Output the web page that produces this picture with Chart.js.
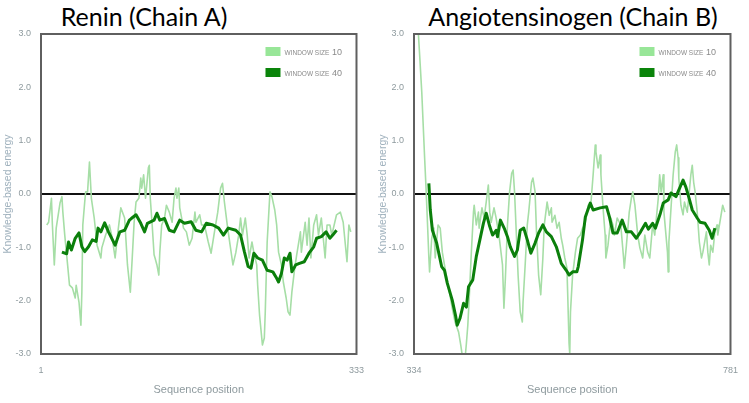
<!DOCTYPE html>
<html>
<head>
<meta charset="utf-8">
<script src="https://cdn.jsdelivr.net/npm/chart.js@4/dist/chart.umd.min.js"></script>
<style>
  html, body { margin: 0; padding: 0; background: #fff; }
  #page { position: relative; width: 749px; height: 403px; overflow: hidden; }
  canvas { position: absolute; top: 0; }
  .ttl { position: absolute; top: 1px; font-family: Lato, "Open Sans", sans-serif; font-size: 25px; line-height: 30px; color: #000; white-space: nowrap; transform: translateX(-50%); }
</style>
</head>
<body>
<div id="page">
  <div class="ttl" style="left:144px">Renin (Chain A)</div>
  <div class="ttl" style="left:573px">Angiotensinogen (Chain B)</div>
  <canvas id="cA" width="375" height="403" style="left:0"></canvas>
  <canvas id="cB" width="374" height="403" style="left:375px"></canvas>
</div>
<script>
// Knowledge-based energy per sequence position, [position, energy]
var reninW10 = [[7,-0.58],[9,-0.53],[12,-0.08],[13,-0.58],[15,-1.33],[17,-0.64],[21,-0.17],[23,-0.05],[24,-0.34],[26,-0.77],
  [29,-1.33],[31,-1.71],[34,-1.76],[37,-1.95],[38,-1.71],[41,-2.03],[43,-2.46],[44,-1.84],[45,-0.58],[47,-0.15],
  [48,0.04],[50,0.04],[52,0.6],[54,-0.08],[57,-0.45],[60,-0.96],[64,-1.2],[65,-1.01],[69,-0.77],[73,-0.58],
  [76,-0.83],[79,-1.2],[82,-0.7],[85,-0.26],[89,-0.45],[92,-1.33],[95,-1.84],[97,-1.2],[99,-0.53],[101,-0.15],
  [104,-0.08],[106,0.3],[107,0.11],[109,0.36],[111,-0.08],[114,0.49],[115,0.54],[116,-0.08],[118,-0.58],[120,-1.14],
  [121,-1.2],[123,-1.33],[125,-1.52],[126,-1.1],[128,-0.58],[131,-0.45],[133,-0.21],[136,-0.34],[139,-0.53],[141,-0.08],
  [143,0.11],[144,-0.08],[146,0.11],[147,-0.26],[151,-0.64],[154,-0.71],[157,-0.96],[160,-0.83],[163,-0.34],[164,-0.53],
  [168,-0.39],[170,-0.58],[173,-0.58],[177,-0.9],[180,-1.11],[183,-0.77],[187,-0.34],[190,0.11],[192,0.2],[194,-0.15],
  [197,-0.58],[200,-0.96],[203,-1.33],[206,-1.1],[209,-0.77],[211,-0.45],[213,-0.77],[216,-0.45],[218,-0.77],[220,-1.2],
  [223,-0.9],[225,-1.1],[228,-1.33],[229,-1.71],[231,-2.27],[233,-2.64],[234,-2.83],[236,-2.7],[237,-2.21],[239,-0.9],
  [241,-0.26],[242,0.04],[244,-0.05],[247,-0.3],[249,-0.58],[251,-1.09],[254,-1.33],[256,-1.65],[259,-1.95],[261,-2.21],
  [263,-2.27],[265,-1.84],[268,-1.39],[270,-1.15],[274,-0.71],[275,-1.09],[279,-0.53],[281,-0.96],[283,-0.45],[285,-1.2],
  [288,-0.58],[291,-0.39],[293,-0.77],[296,-0.45],[300,-1.2],[302,-0.58],[305,-0.58],[307,-0.77],[312,-0.39],[316,-0.34],
  [319,-0.53],[323,-1.27],[325,-0.58],[327,-0.71]];

var reninW40 = [[23,-1.09],[28,-1.12],[30,-0.9],[33,-1.05],[37,-0.83],[41,-0.73],[44,-0.99],[47,-1.08],[51,-0.99],[55,-0.86],
  [59,-0.89],[61,-0.64],[64,-0.71],[68,-0.54],[72,-0.71],[79,-0.96],[84,-0.71],[89,-0.68],[94,-0.49],[96,-0.46],
  [101,-0.39],[106,-0.55],[110,-0.71],[113,-0.55],[120,-0.49],[123,-0.36],[126,-0.49],[131,-0.46],[136,-0.68],[141,-0.71],
  [147,-0.49],[152,-0.55],[159,-0.52],[164,-0.68],[170,-0.71],[175,-0.55],[182,-0.58],[188,-0.64],[193,-0.77],[198,-0.64],
  [206,-0.68],[211,-0.77],[215,-1.08],[219,-1.36],[222,-1.39],[225,-1.11],[229,-1.2],[234,-1.24],[239,-1.43],[245,-1.46],
  [249,-1.58],[251,-1.65],[254,-1.49],[257,-1.2],[260,-1.24],[263,-1.11],[265,-1.46],[269,-1.33],[273,-1.3],[278,-1.27],
  [283,-1.11],[288,-0.99],[291,-0.83],[296,-0.8],[301,-0.71],[305,-0.83],[308,-0.77],[312,-0.68]];

var angW10 = [[340,3.05],[342,2.6],[345,1.9],[349,0.68],[351,0.11],[353,-0.53],[355,-1.2],[356,-1.46],[359,-0.83],[362,-0.64],
  [364,-1.2],[368,-0.58],[371,-0.64],[374,-1.09],[377,-1.33],[384,-1.84],[388,-2.14],[392,-2.4],[397,-2.59],[400,-2.83],
  [403,-3.1],[406,-3.1],[408,-2.8],[410,-2.46],[412,-1.95],[415,-1.09],[418,-0.34],[419,-0.21],[422,-0.58],[425,-0.34],
  [426,-0.64],[430,-0.26],[433,-0.45],[436,-0.15],[439,0.17],[441,-0.34],[443,-0.53],[447,-0.26],[450,-0.45],[454,-0.77],
  [459,-1.33],[461,-2.14],[463,-1.6],[466,-0.58],[469,0.04],[472,0.39],[474,0.45],[476,0.04],[478,-0.58],[481,-1.52],
  [484,-2.21],[487,-2.4],[488,-2.03],[491,-1.33],[494,-0.58],[496,-0.34],[500,0.22],[502,0.3],[505,0.04],[507,-0.71],
  [510,-1.52],[513,-1.89],[516,-1.2],[518,-0.58],[521,-0.26],[522,-0.15],[525,-0.4],[528,-0.26],[529,-0.53],[533,-0.4],
  [536,-0.64],[539,-0.53],[542,-0.83],[544,-0.96],[547,-1.2],[550,-1.39],[551,-1.84],[553,-2.8],[554,-3.0],[555,-2.21],
  [558,-1.52],[562,-1.09],[565,-0.83],[569,-0.77],[572,-0.64],[575,-0.58],[577,-0.45],[580,-0.21],[584,-0.15],[587,0.36],
  [590,0.92],[591,0.79],[594,0.49],[597,0.73],[598,0.36],[601,-0.26],[604,-0.77],[605,-1.2],[608,-0.96],[612,-0.45],
  [615,-0.58],[617,-0.77],[621,-0.45],[626,-0.58],[630,-1.2],[631,-1.39],[634,-0.96],[638,-0.34],[641,-0.08],[643,0.04],
  [646,-0.21],[650,-0.77],[653,-1.01],[657,-1.2],[660,-0.77],[664,-1.09],[667,-1.2],[671,-0.58],[674,-0.77],[679,-0.08],
  [681,0.36],[683,0.04],[686,0.36],[687,-0.34],[692,-1.09],[693,-1.46],[694,-0.9],[697,-0.26],[700,0.36],[703,0.79],
  [705,0.92],[707,0.68],[708,0.3],[711,-0.21],[714,-0.39],[716,-0.15],[720,-0.34],[725,0.36],[727,0.54],[729,0.22],
  [731,0.04],[734,-0.34],[737,-0.9],[740,-1.2],[742,-1.09],[747,-0.71],[749,-1.09],[751,-1.33],[753,-0.96],[756,-1.09],
  [759,-0.71],[762,-0.58],[763,-0.77],[767,-0.45],[770,-0.21],[773,-0.34]];

var angW40 = [[355,0.2],[357,-0.3],[360,-0.68],[366,-0.92],[370,-1.17],[373,-1.36],[377,-1.43],[381,-1.67],[388,-1.99],[393,-2.3],
  [395,-2.46],[399,-2.33],[404,-2.05],[408,-2.12],[411,-1.74],[417,-1.61],[422,-1.17],[428,-0.8],[432,-0.55],[436,-0.36],
  [441,-0.61],[445,-0.77],[450,-0.68],[452,-0.8],[456,-0.49],[462,-0.66],[466,-0.8],[470,-0.99],[476,-1.17],[480,-1.05],
  [484,-0.68],[489,-0.64],[494,-0.86],[499,-1.11],[505,-0.92],[510,-0.73],[516,-0.58],[521,-0.71],[528,-0.8],[535,-0.99],
  [542,-1.3],[549,-1.43],[553,-1.52],[558,-1.46],[564,-1.46],[566,-1.36],[572,-0.86],[576,-0.43],[583,-0.17],[587,-0.3],
  [597,-0.26],[606,-0.24],[610,-0.43],[615,-0.73],[621,-0.73],[628,-0.49],[634,-0.71],[641,-0.71],[648,-0.83],[654,-0.71],
  [661,-0.55],[665,-0.66],[671,-0.55],[675,-0.64],[682,-0.36],[686,-0.17],[693,-0.11],[697,0.02],[704,-0.05],[714,0.26],
  [718,0.13],[723,-0.1],[727,-0.3],[734,-0.45],[738,-0.53],[745,-0.55],[751,-0.68],[755,-0.83],[759,-0.64]];

var seriesLabels = ['WINDOW SIZE 10', 'WINDOW SIZE 40'];
var reninTicks = [1, 333];
var angTicks = [334, 781];
var energyRange = [-3, 3];

var LIGHT = '#a6dea6', DARK = '#0b7f0b';
var GREY = '#8e9a9e', AXIS_BLUE = '#9fb1bd';

function pts(arr) { return arr.map(function (p) { return { x: p[0], y: p[1] }; }); }

// Rahmen um die Plotfläche + Legende oben rechts innerhalb der Fläche
var frameAndLegend = {
  id: 'frameAndLegend',
  afterDraw: function (chart) {
    var ctx = chart.ctx, a = chart.chartArea;
    ctx.save();
    ctx.strokeStyle = '#5f5f5f';
    ctx.lineWidth = 2;
    ctx.strokeRect(a.left, a.top, a.right - a.left, a.bottom - a.top);
    chart.data.datasets.forEach(function (ds, i) {
      var x = a.right - 91, y = a.top + 13 + i * 21;
      ctx.fillStyle = ds.boxColor;
      ctx.fillRect(x, y, 15, 9);
      var parts = ds.label.split(' ');
      var num = parts.pop(), word = parts.join(' ');
      ctx.fillStyle = '#8a8a8a';
      ctx.textBaseline = 'alphabetic';
      ctx.textAlign = 'left';
      ctx.font = '6.5px "Liberation Sans", Arial, sans-serif';
      ctx.fillText(word, x + 19, y + 7.5);
      var w = ctx.measureText(word + ' ').width;
      ctx.font = '9px "Liberation Sans", Arial, sans-serif';
      ctx.fillText(num, x + 19 + w + 1, y + 8);
    });
    ctx.restore();
  }
};

function makeChart(id, w10, w40, ticks, yAxisW, padRight) {
  return new Chart(document.getElementById(id).getContext('2d'), {
    type: 'line',
    data: {
      datasets: [
        { label: seriesLabels[0], data: pts(w10), borderColor: LIGHT, boxColor: '#98e698', borderWidth: 1.6, order: 1 },
        { label: seriesLabels[1], data: pts(w40), borderColor: DARK, boxColor: '#0a840a', borderWidth: 3, order: 0 }
      ]
    },
    options: {
      responsive: false, animation: false,
      layout: { padding: { top: 34, right: padRight, left: 0, bottom: 0 } },
      elements: { point: { radius: 0 }, line: { tension: 0, borderJoinStyle: 'round' } },
      plugins: { legend: { display: false }, tooltip: { enabled: false } },
      scales: {
        x: {
          type: 'linear', min: ticks[0], max: ticks[1],
          afterBuildTicks: function (s) { s.ticks = ticks.map(function (v) { return { value: v }; }); },
          afterFit: function (s) { s.height = 49; },
          grid: { display: false, drawTicks: false },
          border: { display: false },
          ticks: { color: GREY, padding: 11, font: { size: 9, family: '"Liberation Sans", Arial' }, maxRotation: 0,
            callback: function (v) { return String(v); } },
          title: { display: true, text: 'Sequence position', color: GREY, padding: { top: 0, bottom: 6 },
            font: { size: 11, family: '"Liberation Sans", Arial' } }
        },
        y: {
          min: energyRange[0], max: energyRange[1],
          afterFit: function (s) { s.width = yAxisW; },
          grid: {
            drawTicks: false, lineWidth: 2,
            color: function (c) { return c.tick && c.tick.value === 0 ? '#111' : 'rgba(0,0,0,0)'; }
          },
          border: { display: false },
          ticks: { stepSize: 1, color: GREY, padding: 10, font: { size: 9, family: '"Liberation Sans", Arial' },
            callback: function (v) { return v.toFixed(1); } },
          title: { display: true, text: 'Knowledge-based energy', color: AXIS_BLUE, padding: { top: 2, bottom: 0 },
            font: { size: 10.5, family: '"Liberation Sans", Arial' } }
        }
      }
    },
    plugins: [frameAndLegend]
  });
}

makeChart('cA', reninW10, reninW40, reninTicks, 41, 11);
makeChart('cB', angW10, angW40, angTicks, 39, 10);
</script>
</body>
</html>
